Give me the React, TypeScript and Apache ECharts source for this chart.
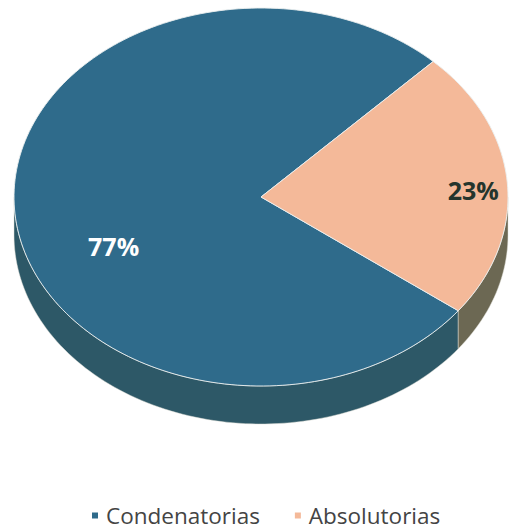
import React, { useEffect, useRef } from "react";
import * as echarts from "echarts";

const categories = ["Condenatorias", "Absolutorias"];
const values = [77, 23];
const topColors = ["#2f6b8b", "#f4b999"];
const sideColors = ["#2d5867", "#6c6853"];
const labelColors = ["#ffffff", "#25352d"];

// layout
const CX = 261;
const CY = 197;
const RX = 247;
const RY = 189;
const DEPTH = 38;
const START = 37; // screen degrees, clockwise
const labelPos = [
  { r: 0.65, da: -19 },
  { r: 0.86, da: 2 },
];

function pt(deg: number, dy = 0): number[] {
  const a = (deg * Math.PI) / 180;
  return [CX + RX * Math.cos(a), CY + RY * Math.sin(a) + dy];
}

function arcPts(a0: number, a1: number, dy = 0): number[][] {
  const n = Math.max(2, Math.ceil(Math.abs(a1 - a0) / 1.5));
  const out: number[][] = [];
  for (let i = 0; i <= n; i++) out.push(pt(a0 + ((a1 - a0) * i) / n, dy));
  return out;
}

function sliceAngles(idx: number) {
  const total = values.reduce((s, v) => s + v, 0);
  let acc = 0;
  for (let i = 0; i < idx; i++) acc += values[i];
  const a0 = START + (acc / total) * 360;
  const a1 = a0 + (values[idx] / total) * 360;
  return { a0, a1, pct: Math.round((values[idx] / total) * 100) };
}

export default function App() {
  const ref = useRef<HTMLDivElement>(null);
  useEffect(() => {
    if (!ref.current) return;
    const chart = echarts.init(ref.current, null, { renderer: "svg" });
    const series = categories.map((name, idx) => ({
      type: "custom",
      name,
      coordinateSystem: "none",
      itemStyle: { color: topColors[idx] },
      data: [[values[idx]]],
      renderItem: (params: any, api: any) => {
        const v = api.value(0);
        const { a0, a1, pct } = sliceAngles(idx);
        const children: any[] = [];
        for (let k = -1; k <= 2; k++) {
          const lo = Math.max(a0, k * 360);
          const hi = Math.min(a1, k * 360 + 180);
          if (hi > lo) {
            const top = arcPts(lo, hi);
            const bot = arcPts(hi, lo, DEPTH);
            children.push({
              type: "polygon",
              z2: 1,
              shape: { points: top.concat(bot) },
              style: { fill: sideColors[idx], stroke: "rgba(220,220,210,0.6)", lineWidth: 0.8 },
            });
          }
        }
        const pts = [[CX, CY]].concat(arcPts(a0, a1));
        children.push({
          type: "polygon",
          z2: 10,
          shape: { points: pts },
          style: { fill: topColors[idx], stroke: "rgba(235,240,240,0.9)", lineWidth: 1 },
        });
        const lp = labelPos[idx];
        const mid = (a0 + a1) / 2 + lp.da;
        const m = (mid * Math.PI) / 180;
        children.push({
          type: "text",
          z2: 20,
          style: {
            text: (v ? pct : 0) + "%",
            x: CX + RX * lp.r * Math.cos(m),
            y: CY + RY * lp.r * Math.sin(m),
            align: "center",
            verticalAlign: "middle",
            fill: labelColors[idx],
            font: "bold 25px 'Open Sans'",
          },
        });
        return { type: "group", children };
      },
    }));
    chart.setOption({
      animation: false,
      legend: {
        data: categories,
        bottom: -1,
        left: 87,
        icon: "rect",
        itemWidth: 6,
        itemHeight: 6,
        itemGap: 35,
        textStyle: { fontFamily: "Open Sans", fontSize: 22.5, color: "#444", padding: [0, 0, 0, 3] },
      },
      series,
    });
    return () => chart.dispose();
  }, []);
  return <div ref={ref} style={{ width: 509, height: 531, position: "absolute", left: 0, top: 0 }} />;
}
